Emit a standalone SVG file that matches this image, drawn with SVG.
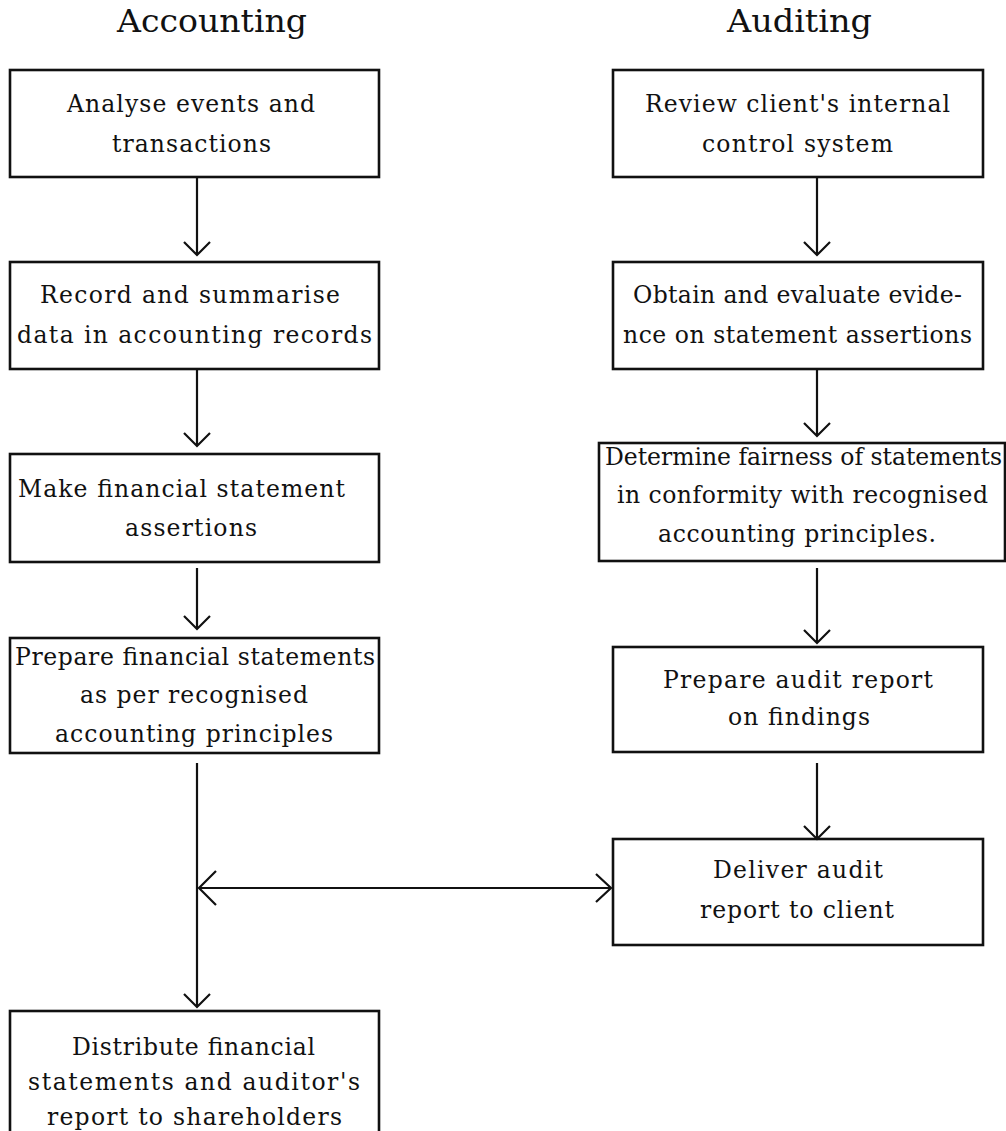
<svg xmlns="http://www.w3.org/2000/svg" width="1006" height="1131" viewBox="0 0 1006 1131">
<style>
.box{fill:#fff;stroke:#111;stroke-width:2.6}
.t{font-family:"DejaVu Serif","Liberation Serif",serif;font-size:23.5px;fill:#111}
.h{font-family:"DejaVu Serif","Liberation Serif",serif;font-size:32px;fill:#111}
.ln{fill:none;stroke:#111;stroke-width:2.2}
</style>
<rect width="1006" height="1131" fill="#fff"/>
<g id="title-accounting"><text class="h" x="117" y="32" textLength="190" lengthAdjust="spacingAndGlyphs">Accounting</text></g>
<g id="title-auditing"><text class="h" x="727" y="32" textLength="145" lengthAdjust="spacingAndGlyphs">Auditing</text></g>

<g id="acc1"><rect class="box" x="10" y="70" width="369" height="107"/>
<text class="t" x="67" y="112" textLength="248" lengthAdjust="spacing">Analyse events and</text>
<text class="t" x="112" y="152" textLength="159" lengthAdjust="spacing">transactions</text></g>

<g id="acc2"><rect class="box" x="10" y="262" width="369" height="107"/>
<text class="t" x="40" y="303" textLength="300" lengthAdjust="spacing">Record and summarise</text>
<text class="t" x="17" y="343" textLength="355" lengthAdjust="spacing">data in accounting records</text></g>

<g id="acc3"><rect class="box" x="10" y="454" width="369" height="108"/>
<text class="t" x="18" y="497" textLength="327" lengthAdjust="spacing">Make financial statement</text>
<text class="t" x="125" y="536" textLength="132" lengthAdjust="spacing">assertions</text></g>

<g id="acc4"><rect class="box" x="10" y="638" width="369" height="115"/>
<text class="t" x="15" y="665" textLength="360" lengthAdjust="spacing">Prepare financial statements</text>
<text class="t" x="80" y="703" textLength="228" lengthAdjust="spacing">as per recognised</text>
<text class="t" x="55" y="742" textLength="278" lengthAdjust="spacing">accounting principles</text></g>

<g id="acc5"><rect class="box" x="10" y="1011" width="369" height="140"/>
<text class="t" x="72" y="1055" textLength="243" lengthAdjust="spacing">Distribute financial</text>
<text class="t" x="28" y="1090" textLength="332" lengthAdjust="spacing">statements and auditor's</text>
<text class="t" x="47" y="1125" textLength="295" lengthAdjust="spacing">report to shareholders</text></g>

<g id="aud1"><rect class="box" x="613" y="70" width="370" height="107"/>
<text class="t" x="645" y="112" textLength="305" lengthAdjust="spacing">Review client's internal</text>
<text class="t" x="702" y="152" textLength="191" lengthAdjust="spacing">control system</text></g>

<g id="aud2"><rect class="box" x="613" y="262" width="370" height="107"/>
<text class="t" x="633" y="303" textLength="329" lengthAdjust="spacing">Obtain and evaluate evide-</text>
<text class="t" x="623" y="343" textLength="349" lengthAdjust="spacing">nce on statement assertions</text></g>

<g id="aud3"><rect class="box" x="599" y="443" width="406" height="118"/>
<text class="t" x="605" y="465" textLength="397" lengthAdjust="spacing">Determine fairness of statements</text>
<text class="t" x="617" y="503" textLength="371" lengthAdjust="spacing">in conformity with recognised</text>
<text class="t" x="658" y="542" textLength="278" lengthAdjust="spacing">accounting principles.</text></g>

<g id="aud4"><rect class="box" x="613" y="647" width="370" height="105"/>
<text class="t" x="663" y="688" textLength="270" lengthAdjust="spacing">Prepare audit report</text>
<text class="t" x="728" y="725" textLength="142" lengthAdjust="spacing">on findings</text></g>

<g id="aud5"><rect class="box" x="613" y="839" width="370" height="106"/>
<text class="t" x="713" y="878" textLength="170" lengthAdjust="spacing">Deliver audit</text>
<text class="t" x="700" y="918" textLength="194" lengthAdjust="spacing">report to client</text></g>

<g id="connectors">
<path class="ln" d="M197 178V255M184 242L197 255L210 242"/>
<path class="ln" d="M197 370V446M184 433L197 446L210 433"/>
<path class="ln" d="M197 568V629M184 616L197 629L210 616"/>
<path class="ln" d="M197 763V1007M184 994L197 1007L210 994"/>
<path class="ln" d="M817 178V255M804 242L817 255L830 242"/>
<path class="ln" d="M817 370V436M804 423L817 436L830 423"/>
<path class="ln" d="M817 568V643M804 630L817 643L830 630"/>
<path class="ln" d="M817 763V839M804 826L817 839L830 826"/>
<path class="ln" d="M199 888H611M216 871L199 888L216 905M596 874L611 888L596 902"/>
</g>
</svg>
